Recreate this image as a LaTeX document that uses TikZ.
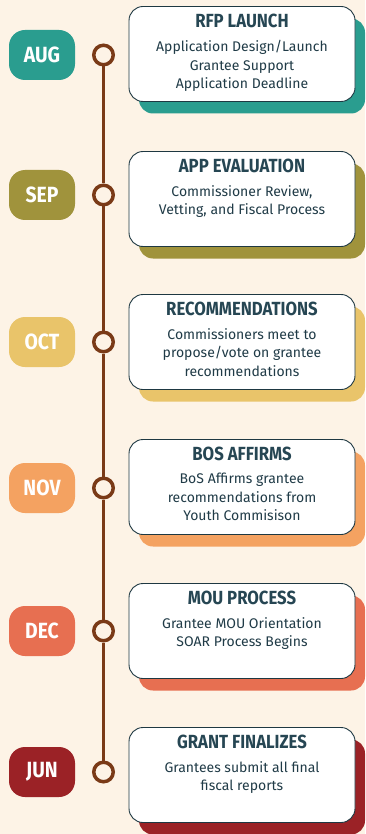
\documentclass[tikz,border=0pt]{standalone}
\usepackage{fontspec}
\usepackage{xcolor}
\usepackage{tikz}
\usetikzlibrary{positioning,shadows}
\newfontfamily\cardfont{Fira Sans}
\newfontfamily\headfont[FakeStretch=0.88]{Fira Sans}
\definecolor{paper}{HTML}{FDF3E6}
\definecolor{ink}{HTML}{264653}
\definecolor{stem}{HTML}{7A3A17}
\definecolor{aug}{HTML}{2A9D8F}
\definecolor{sep}{HTML}{A0933C}
\definecolor{oct}{HTML}{E9C46A}
\definecolor{nov}{HTML}{F4A261}
\definecolor{dec}{HTML}{E76F51}
\definecolor{jun}{HTML}{9B2226}

\begin{document}
\begin{tikzpicture}[x=1pt,y=-1pt,
    month/.style={rounded corners=16pt,minimum width=66pt,minimum height=50pt,inner sep=0pt,
      text=white,font=\headfont\bfseries\fontsize{22pt}{22pt}\selectfont},
    dot/.style={circle,draw=stem,line width=3.5pt,fill=paper,minimum size=19.5pt,inner sep=0pt},
    card/.style={draw=ink!80!black,line width=0.9pt,fill=white,rounded corners=14pt,
      minimum width=226pt,minimum height=95pt,inner sep=0pt},
    ttl/.style={anchor=base,inner sep=0pt,text=ink,font=\headfont\bfseries\fontsize{19pt}{19pt}\selectfont},
    bdy/.style={anchor=north,inner sep=0pt,align=center,text=ink!85!black,
      font=\cardfont\fontsize{14pt}{18.5pt}\selectfont}]
    \fill[paper] (0,0) rectangle (365,834);
    \useasboundingbox (0,0) rectangle (365,834);
    \foreach \i/\mon/\col/\y/\cy in {1/AUG/aug/55/54,2/SEP/sep/195/199,3/OCT/oct/342/342,
                                     4/NOV/nov/488/487,5/DEC/dec/631/631,6/JUN/jun/772/775}{
      \node[month,fill=\col] (badge\i) at (42,\y) {\mon};
      \node[dot] (dot\i) at (103.5,\y) {};
      \node[card,drop shadow={shadow xshift=10pt,shadow yshift=-12pt,fill=\col,opacity=1}]
        (card\i) at (242,\cy) {};
    }
    \foreach \a/\b in {1/2,2/3,3/4,4/5,5/6}
      \draw[stem,line width=3pt] (dot\a) -- (dot\b);
    % card texts
    \node[ttl] (t1) at ([yshift=-21pt]card1.north) {RFP LAUNCH};
    \node[bdy] (b1) at ([yshift=-34pt]card1.north) {Application Design/Launch\\Grantee Support\\Application Deadline};
    \node[ttl] (t2) at ([yshift=-21pt]card2.north) {APP EVALUATION};
    \node[bdy] (b2) at ([yshift=-34pt]card2.north) {Commissioner Review,\\Vetting, and Fiscal Process};
    \node[ttl] (t3) at ([yshift=-21pt]card3.north) {RECOMMENDATIONS};
    \node[bdy] (b3) at ([yshift=-34pt]card3.north) {Commissioners meet to\\propose/vote on grantee\\recommendations};
    \node[ttl] (t4) at ([yshift=-21pt]card4.north) {BOS AFFIRMS};
    \node[bdy] (b4) at ([yshift=-34pt]card4.north) {BoS Affirms grantee\\recommendations from\\Youth Commisison};
    \node[ttl] (t5) at ([yshift=-21pt]card5.north) {MOU PROCESS};
    \node[bdy] (b5) at ([yshift=-34pt]card5.north) {Grantee MOU Orientation\\SOAR Process Begins};
    \node[ttl] (t6) at ([yshift=-21pt]card6.north) {GRANT FINALIZES};
    \node[bdy] (b6) at ([yshift=-34pt]card6.north) {Grantees submit all final\\fiscal reports};
  \end{tikzpicture}
\end{document}
